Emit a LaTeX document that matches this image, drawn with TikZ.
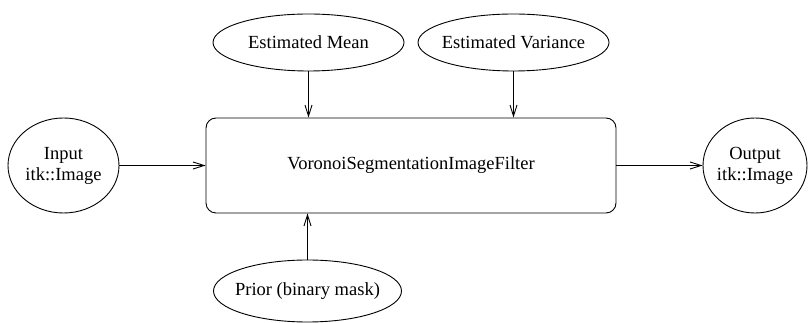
\documentclass[tikz,border=0pt]{standalone}
\usepackage{fontspec}
\setmainfont{Liberation Serif}
\usetikzlibrary{shapes.geometric,arrows.meta}
\begin{document}
\begin{tikzpicture}[x=1pt,y=1pt,
  every node/.style={font=\fontsize{18.5}{21}\selectfont, align=center, inner sep=0pt, line width=0.9pt},
  ell/.style={draw, ellipse, inner xsep=-12pt},
  filterbox/.style={draw, rectangle, rounded corners=10pt},
  conn/.style={line width=0.9pt, -{Straight Barb[length=11pt,width=7pt,line width=0.9pt]}}
]
\useasboundingbox (0,0) rectangle (808,323);
\node[ell, minimum width=111pt, minimum height=95pt] (in) at (63.5,157.5) {Input\\itk::Image};
\node[filterbox, minimum width=410pt, minimum height=95pt] (main) at (411,157.5) {VoronoiSegmentationImageFilter};
\node[ell, minimum width=104pt, minimum height=95pt] (out) at (755,157.5) {Output\\itk::Image};
\node[ell, minimum width=191pt, minimum height=57pt] (mean) at (308.5,280.5) {Estimated Mean};
\node[ell, minimum width=191pt, minimum height=57pt] (var) at (513.5,280.5) {Estimated Variance};
\node[ell, minimum width=188pt, minimum height=62pt] (prior) at (307.5,32) {Prior (binary mask)};
\draw[conn] (in) -- (main);
\draw[conn] (main) -- (out);
\draw[conn] (mean) -- (mean |- main.north);
\draw[conn] (var) -- (var |- main.north);
\draw[conn] (prior) -- (prior |- main.south);
\end{tikzpicture}
\end{document}
